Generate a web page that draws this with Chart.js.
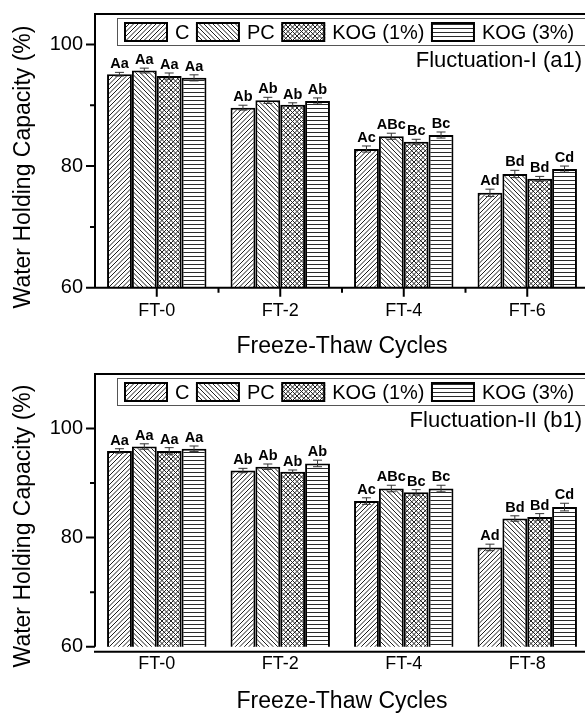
<!DOCTYPE html>
<html>
<head>
<meta charset="utf-8">
<script src="https://cdn.jsdelivr.net/npm/chart.js@4.4.1/dist/chart.umd.min.js"></script>
<style>
  html, body { margin: 0; padding: 0; background: #fff; overflow: hidden; width: 585px; height: 713px; }
  canvas { position: absolute; left: 0; }
  #chartA { top: 0; }
  #chartB { top: 360px; }
</style>
</head>
<body>
<canvas id="chartA" width="600" height="360"></canvas>
<canvas id="chartB" width="600" height="353"></canvas>
<script>
// Categories and series names
const cyclesA = ['FT-0', 'FT-2', 'FT-4', 'FT-6'];
const cyclesB = ['FT-0', 'FT-2', 'FT-4', 'FT-8'];
const treatments = ['C', 'PC', 'KOG (1%)', 'KOG (3%)'];
const yTickVals = [60, 70, 80, 90, 100];
const yLabelVals = [60, 80, 100];

// Fluctuation-I (a1): water holding capacity (%)
const flucA_C    = [95.1, 89.6, 82.8, 75.6];
const flucA_PC   = [95.7, 90.8, 84.9, 78.7];
const flucA_KOG1 = [94.8, 90.1, 84.0, 77.9];
const flucA_KOG3 = [94.5, 90.7, 85.1, 79.5];
const flucA_C_sd    = [0.3, 0.4, 0.5, 0.6];
const flucA_PC_sd   = [0.4, 0.5, 0.5, 0.6];
const flucA_KOG1_sd = [0.5, 0.3, 0.4, 0.4];
const flucA_KOG3_sd = [0.5, 0.5, 0.5, 0.5];

// Fluctuation-II (b1)
const flucB_C    = [95.9, 92.3, 86.7, 78.2];
const flucB_PC   = [96.7, 93.0, 89.0, 83.5];
const flucB_KOG1 = [95.9, 92.1, 88.3, 83.8];
const flucB_KOG3 = [96.3, 93.6, 89.0, 85.6];
const flucB_C_sd    = [0.4, 0.4, 0.6, 0.6];
const flucB_PC_sd   = [0.5, 0.5, 0.6, 0.5];
const flucB_KOG1_sd = [0.6, 0.3, 0.5, 0.6];
const flucB_KOG3_sd = [0.5, 0.6, 0.6, 0.7];

// Significance letters (same for both fluctuations)
const sig_C    = ['Aa', 'Ab', 'Ac', 'Ad'];
const sig_PC   = ['Aa', 'Ab', 'ABc', 'Bd'];
const sig_KOG1 = ['Aa', 'Ab', 'Bc', 'Bd'];
const sig_KOG3 = ['Aa', 'Ab', 'Bc', 'Cd'];

const FONT = "'Liberation Sans', Arial, sans-serif";
Chart.defaults.font.family = FONT;
Chart.defaults.color = '#000';

// hatch fills for the four treatments
function makePattern(kind) {
  const s = 9;
  const c = document.createElement('canvas');
  c.width = s; c.height = s;
  const g = c.getContext('2d');
  g.fillStyle = '#fff';
  g.fillRect(0, 0, s, s);
  g.strokeStyle = '#1e1e1e';
  g.lineWidth = 1;
  g.beginPath();
  if (kind === 'fwd' || kind === 'cross') {
    for (let k = -9; k <= 18; k += 4.5) { g.moveTo(k, s); g.lineTo(k + s, 0); }
  }
  if (kind === 'back' || kind === 'cross') {
    for (let k = -9; k <= 18; k += 4.5) { g.moveTo(k, 0); g.lineTo(k + s, s); }
  }
  g.stroke();
  return g.createPattern(c, 'repeat');
}

function makeStripes() {
  const c = document.createElement('canvas');
  c.width = 8; c.height = 4;
  const g = c.getContext('2d');
  g.fillStyle = '#fff';
  g.fillRect(0, 0, 8, 4);
  g.fillStyle = '#2a2a2a';
  g.fillRect(0, 0, 8, 1);
  return g.createPattern(c, 'repeat');
}
const fills = [makePattern('fwd'), makePattern('back'), makePattern('cross'), makeStripes()];

function makeDecor(cfg) {
  return {
    id: 'decor',
    afterDatasetsDraw(chart) {
      const ctx = chart.ctx;
      const y = chart.scales.y;
      chart.data.datasets.forEach((ds, di) => {
        chart.getDatasetMeta(di).data.forEach((bar, i) => {
          const v = ds.data[i], e = cfg.errors[di][i];
          const yt = y.getPixelForValue(v + e), yb = y.getPixelForValue(v - e);
          ctx.save();
          ctx.strokeStyle = '#333';
          ctx.lineWidth = 1;
          ctx.beginPath();
          ctx.moveTo(bar.x, yt); ctx.lineTo(bar.x, yb);
          ctx.moveTo(bar.x - 4.5, yt); ctx.lineTo(bar.x + 4.5, yt);
          ctx.moveTo(bar.x - 4.5, yb); ctx.lineTo(bar.x + 4.5, yb);
          ctx.stroke();
          ctx.fillStyle = '#000';
          ctx.font = 'bold 14.5px ' + FONT;
          ctx.textAlign = 'center';
          ctx.textBaseline = 'alphabetic';
          ctx.fillText(cfg.letters[di][i], bar.x, yt - 4);
          ctx.restore();
        });
      });
    },
    afterDraw(chart) {
      const ctx = chart.ctx, a = chart.chartArea;
      const x = chart.scales.x, y = chart.scales.y;
      ctx.save();
      ctx.strokeStyle = '#000';
      ctx.lineWidth = 2;
      ctx.beginPath();
      ctx.moveTo(a.left - 1, a.top); ctx.lineTo(a.right + 10, a.top);
      ctx.moveTo(a.left, a.top); ctx.lineTo(a.left, a.bottom);
      ctx.moveTo(a.left - 1, a.bottom + cfg.axisGap); ctx.lineTo(a.right + 10, a.bottom + cfg.axisGap);
      ctx.moveTo(a.right, a.top); ctx.lineTo(a.right, a.bottom);
      // y ticks, long at labelled values
      yTickVals.forEach(v => {
        const py = y.getPixelForValue(v);
        const len = yLabelVals.includes(v) ? 9 : 5;
        ctx.moveTo(a.left - len, py); ctx.lineTo(a.left, py);
      });
      if (cfg.xTicks) {
        const n = chart.data.labels.length;
        for (let i = 0; i < n; i++) {
          const px = x.getPixelForTick(i);
          ctx.moveTo(px, a.bottom); ctx.lineTo(px, a.bottom + 9);
          if (i < n - 1) {
            const mid = (px + x.getPixelForTick(i + 1)) / 2;
            ctx.moveTo(mid, a.bottom); ctx.lineTo(mid, a.bottom + 5);
          }
        }
      }
      ctx.stroke();

      // legend strip
      ctx.lineWidth = 1;
      ctx.strokeStyle = '#555';
      ctx.strokeRect(117.5, 18.5, 520, 27);
      ctx.font = '20px ' + FONT;
      ctx.textAlign = 'left';
      ctx.textBaseline = 'middle';
      let lx = 124;
      chart.data.datasets.forEach((ds, di) => {
        ctx.fillStyle = fills[di];
        ctx.fillRect(lx, 22, 44, 20);
        ctx.lineWidth = 2;
        ctx.strokeStyle = '#000';
        ctx.strokeRect(lx + 1, 23, 42, 18);
        ctx.fillStyle = '#000';
        ctx.fillText(ds.label, lx + 51, 33);
        lx += 51 + ctx.measureText(ds.label).width + 6.5;
      });

      // panel title
      ctx.font = '22px ' + FONT;
      ctx.textAlign = 'right';
      ctx.fillText(cfg.title, 582, 61);

      // axis titles
      ctx.font = '23px ' + FONT;
      ctx.textAlign = 'center';
      ctx.fillText('Freeze-Thaw Cycles', 342, cfg.xTitleY);
      ctx.translate(24, cfg.yTitleY);
      ctx.rotate(-Math.PI / 2);
      ctx.fillText('Water Holding Capacity (%)', 0, 0);
      ctx.restore();
    }
  };
}

function noPad(s) {
  s.paddingTop = 0; s.paddingBottom = 0;
  s.paddingLeft = 0; s.paddingRight = 0;
}

function buildChart(id, labels, series, yMax, xHeight, xPad, decor) {
  return new Chart(document.getElementById(id), {
    type: 'bar',
    data: {
      labels: labels,
      datasets: series.map((d, i) => ({
        label: treatments[i],
        data: d,
        backgroundColor: fills[i],
        borderColor: '#000',
        borderWidth: 2,
        borderSkipped: false,
        barPercentage: 1,
        categoryPercentage: 0.805
      }))
    },
    options: {
      responsive: false,
      animation: false,
      devicePixelRatio: 1,
      layout: { padding: { top: 14, right: 11, left: 0, bottom: 0 } },
      plugins: { legend: { display: false }, tooltip: { enabled: false } },
      scales: {
        x: {
          grid: { display: false, drawTicks: false },
          border: { display: false },
          ticks: { font: { size: 18 }, color: '#000', padding: xPad },
          afterFit: s => { noPad(s); s.height = xHeight; }
        },
        y: {
          min: 60,
          max: yMax,
          grid: { display: false, drawTicks: false },
          border: { display: false },
          afterBuildTicks: s => { s.ticks = yTickVals.map(v => ({ value: v })); },
          ticks: {
            font: { size: 20 },
            color: '#000',
            padding: 12,
            callback: v => yLabelVals.includes(v) ? String(v) : ''
          },
          afterFit: s => { noPad(s); s.width = 95; }
        }
      }
    },
    plugins: [makeDecor(decor)]
  });
}

buildChart('chartA', cyclesA, [flucA_C, flucA_PC, flucA_KOG1, flucA_KOG3], 105, 72.3, 13, {
  errors: [flucA_C_sd, flucA_PC_sd, flucA_KOG1_sd, flucA_KOG3_sd],
  letters: [sig_C, sig_PC, sig_KOG1, sig_KOG3],
  title: 'Fluctuation-I (a1)',
  axisGap: 0,
  xTicks: true,
  xTitleY: 347,
  yTitleY: 167
});

buildChart('chartB', cyclesB, [flucB_C, flucB_PC, flucB_KOG1, flucB_KOG3], 110, 66.3, 7, {
  errors: [flucB_C_sd, flucB_PC_sd, flucB_KOG1_sd, flucB_KOG3_sd],
  letters: [sig_C, sig_PC, sig_KOG1, sig_KOG3],
  title: 'Fluctuation-II (b1)',
  axisGap: 5,
  xTicks: false,
  xTitleY: 342,
  yTitleY: 166
});
</script>
</body>
</html>
